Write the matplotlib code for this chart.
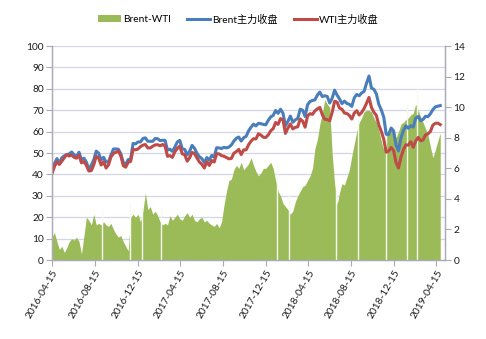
import numpy as np
import pandas as pd
import matplotlib
matplotlib.use('Agg')
import matplotlib.pyplot as plt

plt.rcParams['font.family'] = ['Lato', 'Noto Sans CJK SC', 'DejaVu Sans']

# weekly readings, starting 2016-04-15
dates = pd.date_range('2016-04-15', periods=159, freq='7D')

brent = [43.1, 45.1, 47.4, 45.4, 47.8, 48.7, 49.3, 49.6, 50.5, 49.2, 48.4, 50.4, 46.8, 47.6, 45.7, 42.5,
         44.3, 46.9, 50.9, 49.9, 46.8, 48.0, 45.8, 45.9, 49.1, 51.9, 51.9, 51.8, 49.7, 45.6, 44.8, 46.9,
         47.2, 54.5, 54.3, 55.2, 55.2, 56.8,
         57.1, 55.5, 55.5, 55.5, 56.8, 56.7, 55.8, 56.0, 55.9, 51.4, 51.8, 50.8, 52.8, 55.2, 55.9, 52.0,
         51.7, 49.1, 50.8, 53.6, 52.2, 49.9, 48.2, 47.4, 45.5, 47.9, 46.7, 48.9, 48.1, 52.5, 52.4, 52.1,
         52.7, 52.4, 52.8, 53.8, 55.6, 56.9, 57.5, 55.6, 57.2, 57.8, 60.4, 62.1, 63.5, 62.7, 63.9, 63.7,
         63.4, 63.2, 65.3, 66.9,
         67.6, 69.9, 68.6, 70.5, 68.6, 62.8, 64.8, 67.3, 64.4, 65.5, 66.2, 70.5, 70.0, 67.1, 72.6, 74.1,
         74.6, 74.9, 77.1, 78.5, 76.4, 76.8, 76.5, 73.4, 75.6, 79.4, 77.1, 75.3, 73.1, 74.3, 73.2, 72.8,
         71.8, 75.8, 77.4, 76.8, 78.1, 78.8, 82.7, 86.0, 80.4, 79.8, 77.6, 72.8, 70.2, 66.8, 58.8, 58.7,
         61.7, 60.3, 53.8, 51.0,
         57.1, 60.5, 62.7, 61.6, 62.8, 62.1, 66.3, 67.1, 65.1, 65.7, 67.2, 67.0, 68.4, 70.3, 71.6, 71.9,
         72.2]

wti = [40.4, 43.7, 45.9, 44.7, 46.2, 47.8, 49.3, 48.6, 49.1, 48.0, 47.6, 49.0, 45.4, 46.0, 44.2, 41.6,
       41.8, 44.5, 48.5, 47.6, 44.4, 45.9, 43.0, 44.5, 48.2, 49.8, 50.4, 50.9, 48.7, 44.1, 43.4, 45.7,
       46.1, 51.7, 51.5, 51.9, 53.0, 53.7,
       54.0, 52.4, 52.4, 53.2, 53.8, 53.9, 53.4, 54.0, 53.3, 48.5, 48.8, 48.0, 50.6, 52.2, 53.2, 49.6,
       49.3, 46.2, 47.8, 50.3, 49.8, 47.7, 45.8, 44.7, 43.0, 46.0, 44.2, 46.5, 45.8, 49.7, 49.6, 48.8,
       48.5, 47.9, 47.3, 47.5, 49.9, 50.7, 51.7, 49.3, 51.5, 51.5, 53.9, 55.6, 56.7, 56.6, 59.0, 58.4,
       57.4, 57.3, 58.5, 60.4,
       61.4, 64.3, 63.4, 66.1, 65.5, 59.2, 61.7, 63.6, 61.3, 62.0, 62.3, 65.9, 64.9, 62.1, 67.4, 68.4,
       68.1, 69.7, 70.7, 71.3, 67.9, 65.8, 65.7, 65.1, 69.0, 74.2, 73.8, 71.0, 70.5, 68.7, 68.5, 67.6,
       65.9, 68.7, 69.8, 67.8, 69.0, 70.8, 73.3, 76.0, 71.3, 69.1, 67.6, 63.1, 60.2, 56.5, 50.4, 50.9,
       52.6, 51.2, 45.6, 43.0,
       48.0, 51.6, 53.8, 53.7, 55.3, 52.7, 55.6, 57.3, 55.8, 56.1, 58.5, 59.0, 60.1, 63.1, 63.9, 64.0,
       63.3]

spread = [1.5, 1.8, 1.2, 0.7, 0.9, 0.5, 0.8, 1.2, 1.4, 1.3, 1.5, 1.2, 0.4, 1.6, 2.8, 2.6,
          2.3, 3.0, 2.3, 2.4, 2.3, 2.5, 2.3, 2.2, 2.4, 2.0, 1.7, 1.5, 1.6, 1.2, 0.9, 0.6,
          2.8, 3.0, 2.8, 3.0, 2.5, 3.2,
          4.4, 3.3, 3.5, 3.0, 3.2, 2.9, 2.5, 2.3, 2.4, 2.3, 2.9, 2.6, 2.8, 3.0, 2.7, 2.6,
          2.9, 3.1, 2.8, 3.0, 2.6, 2.5, 2.7, 2.8, 2.5, 2.6, 2.4, 2.3, 2.2, 2.4, 2.1, 2.5,
          3.6, 4.5, 5.2, 5.3, 5.9, 6.2, 6.0, 6.4, 5.9, 6.1, 6.3, 6.7, 6.2, 5.8, 5.5, 5.7,
          6.0, 6.0, 6.2, 6.4,
          6.0, 5.2, 4.5, 4.2, 3.7, 3.5, 3.3, 3.0, 3.2, 3.8, 4.2, 4.5, 4.8, 4.9, 5.2, 5.5,
          6.0, 7.3, 7.9, 8.9, 9.6, 10.5, 10.2, 10.0, 7.0, 5.0, 3.6, 4.4, 5.0, 4.9, 5.4, 5.9,
          6.8, 7.6, 8.4, 9.0, 9.3, 9.7, 9.8, 9.8, 9.7, 9.3, 9.0, 8.5, 7.8, 7.2, 8.2, 8.5,
          8.7, 8.6, 8.0, 8.4,
          8.9, 9.0, 9.2, 9.3, 9.5, 9.6, 10.2, 9.8, 9.4, 9.0, 8.6, 8.2, 7.4, 6.7, 7.2, 7.8,
          8.3]

# days without a WTI close (spread drops to zero)
gap_days = ['2016-09-05', '2016-11-24', '2016-12-26', '2017-02-20', '2018-01-15', '2018-02-19',
            '2018-07-04', '2018-09-03', '2018-11-22', '2019-01-21', '2019-02-18']

tick_labels = ['2016-04-15', '2016-08-15', '2016-12-15', '2017-04-15', '2017-08-15', '2017-12-15',
               '2018-04-15', '2018-08-15', '2018-12-15', '2019-04-15']

c_green = '#9bbb59'
c_blue = '#4a7ebb'
c_red = '#be4b48'
c_grid = '#d3d6e6'
c_axis = '#a9abb8'
fs = 7.3

fig = plt.figure(figsize=(4.86, 3.39), dpi=100)
ax_sp = fig.add_axes([0.107, 0.233, 0.809, 0.631])
ax_px = ax_sp.twinx()

# gridlines follow the left (price) ticks, drawn under the green area
for v in range(10, 101, 10):
    ax_sp.axhline(v * 0.14, color=c_grid, lw=0.9, zorder=0.5)

sp = ax_sp.fill_between(dates, spread, 0, color=c_green, lw=0, zorder=2, label='Brent-WTI')
gaps = pd.to_datetime(gap_days)
tops = [spread[np.argmin(np.abs((dates - g).days))] + 1.0 for g in gaps]
ax_sp.vlines(gaps, 0, tops, colors='#f6f9ee', lw=1.0, zorder=3)

lb, = ax_px.plot(dates, brent, color=c_blue, lw=2.2, label='Brent主力收盘')
lr, = ax_px.plot(dates, wti, color=c_red, lw=2.2, label='WTI主力收盘')

ax_sp.set_xlim(pd.Timestamp('2016-04-15'), pd.Timestamp('2019-05-10'))
ax_sp.set_ylim(0, 14)
ax_px.set_ylim(0, 100)

ax_sp.yaxis.tick_right()
ax_px.yaxis.tick_left()
ax_sp.set_yticks(range(0, 15, 2))
ax_px.set_yticks(range(0, 101, 10))

ax_sp.set_xticks(pd.to_datetime(tick_labels))
ax_sp.set_xticklabels(tick_labels, rotation=60, ha='right', va='top', rotation_mode='anchor')

for a in (ax_sp, ax_px):
    a.spines['top'].set_visible(False)
    for s in ('left', 'right', 'bottom'):
        a.spines[s].set_color(c_axis)
        a.spines[s].set_linewidth(0.9)
    a.tick_params(axis='both', length=4, width=0.8, color=c_axis, labelsize=fs, pad=2,
                  labelcolor='#1a1a1a')

fig.legend([sp, lb, lr], ['Brent-WTI', 'Brent主力收盘', 'WTI主力收盘'],
           loc='upper center', bbox_to_anchor=(0.49, 0.985), ncol=3, frameon=False,
           fontsize=fs, handlelength=2.3, handletextpad=0.15, columnspacing=1.6)

fig.savefig('out.png', dpi=100)
